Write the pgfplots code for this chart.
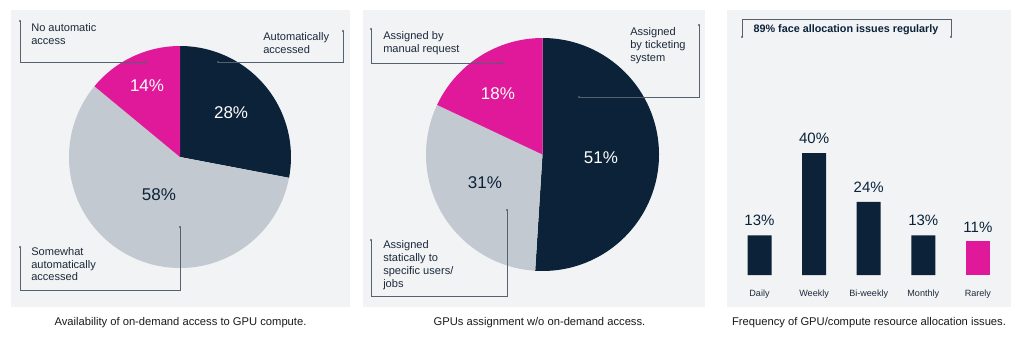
\documentclass[border=0pt]{standalone}
\usepackage{pgfplots}
\pgfplotsset{compat=1.18}
\usepackage{fontspec}
\setmainfont{Liberation Sans}
\definecolor{navy}{HTML}{0B2239}
\definecolor{pinkc}{HTML}{E0199A}
\definecolor{lgray}{HTML}{C2C9D0}
\definecolor{bg}{HTML}{F2F3F5}
\definecolor{linec}{HTML}{55616E}
\definecolor{txt}{HTML}{1C2A3A}
\definecolor{cap}{HTML}{1A1A1A}
\begin{document}
\begin{tikzpicture}
\begin{scope}[x=0.75pt,y=-0.75pt]
\fill[white] (0,0) rectangle (1024,337);
\fill[bg] (11,10) rectangle (350,307);
\fill[bg] (363,10) rectangle (705,307);
\fill[bg] (727,10) rectangle (1011,307);
\end{scope}

% ---------- Pie 1 ----------
\begin{axis}[hide axis, x=83.25pt, y=83.25pt, xmin=-1.2, xmax=1.2, ymin=-1.2, ymax=1.2,
  anchor=center, at={(135pt,-117.75pt)}, clip=false]
  \fill[navy]  (axis cs:0,0) -- (axis cs:{cos(90)},{sin(90)}) arc[start angle=90, end angle={90-28*3.6}, radius=83.25pt] -- cycle;
  \fill[lgray] (axis cs:0,0) -- (axis cs:{cos(90-28*3.6)},{sin(90-28*3.6)}) arc[start angle={90-28*3.6}, end angle={90-86*3.6}, radius=83.25pt] -- cycle;
  \fill[pinkc] (axis cs:0,0) -- (axis cs:{cos(90-86*3.6)},{sin(90-86*3.6)}) arc[start angle={90-86*3.6}, end angle={90-100*3.6}, radius=83.25pt] -- cycle;
  \node[white, font=\fontsize{12.75}{14}\selectfont] at (axis cs:0.46,0.396) {28\%};
  \node[navy,  font=\fontsize{12.75}{14}\selectfont] at (axis cs:-0.19,-0.342) {58\%};
  \node[white, font=\fontsize{12.75}{14}\selectfont] at (axis cs:-0.297,0.64) {14\%};
\end{axis}

% ---------- Pie 2 ----------
\begin{axis}[hide axis, x=87.375pt, y=87.375pt, xmin=-1.2, xmax=1.2, ymin=-1.2, ymax=1.2,
  anchor=center, at={(406.875pt,-115.875pt)}, clip=false]
  \fill[navy]  (axis cs:0,0) -- (axis cs:{cos(90)},{sin(90)}) arc[start angle=90, end angle={90-51*3.6}, radius=87.375pt] -- cycle;
  \fill[lgray] (axis cs:0,0) -- (axis cs:{cos(90-51*3.6)},{sin(90-51*3.6)}) arc[start angle={90-51*3.6}, end angle={90-82*3.6}, radius=87.375pt] -- cycle;
  \fill[pinkc] (axis cs:0,0) -- (axis cs:{cos(90-82*3.6)},{sin(90-82*3.6)}) arc[start angle={90-82*3.6}, end angle={90-100*3.6}, radius=87.375pt] -- cycle;
  \node[white, font=\fontsize{12.75}{14}\selectfont] at (axis cs:0.502,-0.03) {51\%};
  \node[navy,  font=\fontsize{12.75}{14}\selectfont] at (axis cs:-0.494,-0.245) {31\%};
  \node[white, font=\fontsize{12.75}{14}\selectfont] at (axis cs:-0.382,0.519) {18\%};
\end{axis}

% ---------- Bars ----------
\begin{axis}[x=40.95pt, y=2.2875pt, xmin=-0.5, xmax=4.5, ymin=0, ymax=50,
  anchor=south west, at={(549.15pt,-206.25pt)}, clip=false,
  axis line style={draw=none}, tick style={draw=none},
  ytick=\empty, xtick={0,1,2,3,4},
  xticklabels={Daily,Weekly,Bi-weekly,Monthly,Rarely},
  xticklabel style={anchor=center, yshift=-9.75pt, inner sep=0pt, text=txt, font=\fontsize{6.8}{8}\selectfont},
  ybar, bar width=18pt, bar shift=0pt,
  /pgf/number format/assume math mode=true,
  nodes near coords={\pgfmathprintnumber{\pgfplotspointmeta}\%},
  every node near coord/.append style={anchor=center, yshift=10.9pt, text=navy, font=\fontsize{11.25}{13}\selectfont}]
  \addplot[draw=none, fill=navy] coordinates {(0,13) (1,40) (2,24) (3,13)};
  \addplot[draw=none, fill=pinkc] coordinates {(4,11)};
\end{axis}

\begin{scope}[x=0.75pt,y=-0.75pt]
\tikzset{ann/.style={draw=linec, line width=0.5pt}, dt/.style={fill=linec, circle, inner sep=0pt, minimum size=1.6pt}}
% pie 1 annotations
\draw[ann] (20,21) -- (20,62) -- (146,62);
\node[dt] at (146,62) {}; \node[dt] at (20,21) {};
\draw[ann] (343,31) -- (343,62) -- (218,62);
\node[dt] at (218,62) {}; \node[dt] at (343,31) {};
\draw[ann] (20,247) -- (20,290) -- (180,290) -- (180,227);
\node[dt] at (180,227) {}; \node[dt] at (20,247) {};
\node[anchor=west, align=left, inner sep=0pt, text=txt, font=\fontsize{8.3}{9.75}\selectfont] at (31,34.5) {No automatic\\access};
\node[anchor=west, align=left, inner sep=0pt, text=txt, font=\fontsize{8.3}{9.75}\selectfont] at (263,43.5) {Automatically\\accessed};
\node[anchor=west, align=left, inner sep=0pt, text=txt, font=\fontsize{8.3}{9.4}\selectfont] at (31,264.5) {Somewhat\\automatically\\accessed};
% pie 2 annotations
\draw[ann] (371,29) -- (371,63) -- (503,63);
\node[dt] at (503,63) {}; \node[dt] at (371,29) {};
\draw[ann] (699,25) -- (699,97) -- (579,97);
\node[dt] at (579,97) {}; \node[dt] at (699,25) {};
\draw[ann] (371,240) -- (371,296) -- (507,296) -- (507,210);
\node[dt] at (507,210) {}; \node[dt] at (371,240) {};
\node[anchor=west, align=left, inner sep=0pt, text=txt, font=\fontsize{8.3}{9.75}\selectfont] at (383,43.5) {Assigned by\\manual request};
\node[anchor=west, align=left, inner sep=0pt, text=txt, font=\fontsize{8.3}{9.75}\selectfont] at (630,46) {Assigned\\by ticketing\\system};
\node[anchor=west, align=left, inner sep=0pt, text=txt, font=\fontsize{8.3}{9.6}\selectfont] at (383,265) {Assigned\\statically to\\specific users/\\jobs};
% bar annotation
\draw[ann] (742,37) -- (742,19) -- (951,19) -- (951,37);
\node[dt] at (742,37) {}; \node[dt] at (951,37) {};
\node[text=navy, inner sep=0pt, font=\fontsize{8.1}{9}\selectfont\bfseries] at (846,30) {89\% face allocation issues regularly};
% captions
\node[text=cap, inner sep=0pt, font=\fontsize{8.4}{9.5}\selectfont] at (180.5,323) {Availability of on-demand access to GPU compute.};
\node[text=cap, inner sep=0pt, font=\fontsize{8.4}{9.5}\selectfont] at (539.5,323) {GPUs assignment w/o on-demand access.};
\node[text=cap, inner sep=0pt, font=\fontsize{8.4}{9.5}\selectfont] at (869,323) {Frequency of GPU/compute resource allocation issues.};
\end{scope}
\pgfresetboundingbox
\path[use as bounding box] (0,0) rectangle (768pt,-252.75pt);
\end{tikzpicture}
\end{document}
